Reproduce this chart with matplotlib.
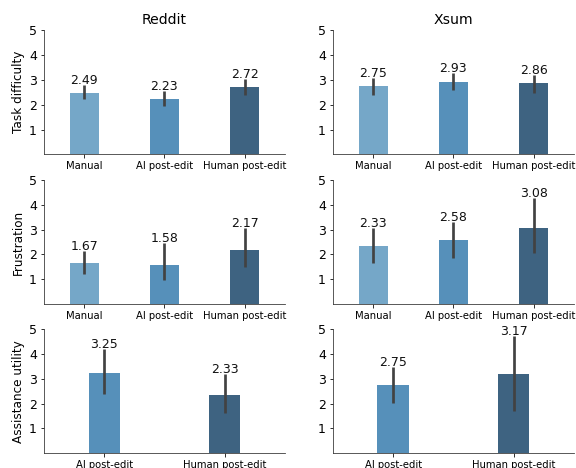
import matplotlib

matplotlib.use("Agg")
import matplotlib.pyplot as plt
import numpy as np

COND3 = ["Manual", "AI post-edit", "Human post-edit"]
COND2 = ["AI post-edit", "Human post-edit"]
C_MANUAL = "#75a7c8"
C_AI = "#5690ba"
C_HUMAN = "#3e6381"

# means and CI bounds (lo, hi) per panel
reddit_diff = [2.49, 2.23, 2.72]
reddit_diff_lo = [2.21, 1.94, 2.41]
reddit_diff_hi = [2.81, 2.54, 3.02]
xsum_diff = [2.75, 2.93, 2.86]
xsum_diff_lo = [2.41, 2.58, 2.49]
xsum_diff_hi = [3.08, 3.27, 3.20]

reddit_frus = [1.67, 1.58, 2.17]
reddit_frus_lo = [1.21, 0.97, 1.48]
reddit_frus_hi = [2.14, 2.45, 3.05]
xsum_frus = [2.33, 2.58, 3.08]
xsum_frus_lo = [1.64, 1.87, 2.04]
xsum_frus_hi = [3.05, 3.29, 4.29]

reddit_util = [3.25, 2.33]
reddit_util_lo = [2.38, 1.64]
reddit_util_hi = [4.19, 3.20]
xsum_util = [2.75, 3.17]
xsum_util_lo = [2.04, 1.72]
xsum_util_hi = [3.46, 4.73]

fig = plt.figure(figsize=(8, 6.5), dpi=72)

LEFTS = [0.0764, 0.578]
BOTTOMS = [0.670, 0.350, 0.0314]
W, H = 0.418, 0.2656


def panel(ax, labels, vals, lo, hi, colors, width):
    x = np.arange(len(vals))
    ax.bar(x, vals, width=width, color=colors, zorder=2)
    ax.vlines(x, lo, hi, color="#424242", linewidth=2.7, zorder=3)
    for xi, v, h in zip(x, vals, hi):
        ax.text(xi, h - 0.08, f"{v:.2f}", ha="center", va="bottom", fontsize=12.5, color="#111111")
    ax.set_xlim(-0.5, len(vals) - 0.5)
    ax.set_ylim(0, 5)
    ax.set_yticks([1, 2, 3, 4, 5])
    ax.set_xticks(x, labels, fontsize=10)
    ax.tick_params(axis="y", labelsize=12.5)
    for s in ("top", "right"):
        ax.spines[s].set_visible(False)
    ax.spines["left"].set_color("#333333")
    ax.spines["bottom"].set_color("#333333")


c3 = [C_MANUAL, C_AI, C_HUMAN]
c2 = [C_AI, C_HUMAN]
rows = [
    ("Task difficulty", COND3, c3, 0.36,
     (reddit_diff, reddit_diff_lo, reddit_diff_hi), (xsum_diff, xsum_diff_lo, xsum_diff_hi)),
    ("Frustration", COND3, c3, 0.36,
     (reddit_frus, reddit_frus_lo, reddit_frus_hi), (xsum_frus, xsum_frus_lo, xsum_frus_hi)),
    ("Assistance utility", COND2, c2, 0.26,
     (reddit_util, reddit_util_lo, reddit_util_hi), (xsum_util, xsum_util_lo, xsum_util_hi)),
]

for r, (ylabel, labels, colors, width, left_data, right_data) in enumerate(rows):
    axl = fig.add_axes([LEFTS[0], BOTTOMS[r], W, H])
    axr = fig.add_axes([LEFTS[1], BOTTOMS[r], W, H])
    panel(axl, labels, *left_data, colors, width)
    panel(axr, labels, *right_data, colors, width)
    axl.set_ylabel(ylabel, fontsize=12)
    if r == 0:
        axl.set_title("Reddit", fontsize=14, pad=6)
        axr.set_title("Xsum", fontsize=14, pad=6)

fig.savefig("out.png", dpi=72)
